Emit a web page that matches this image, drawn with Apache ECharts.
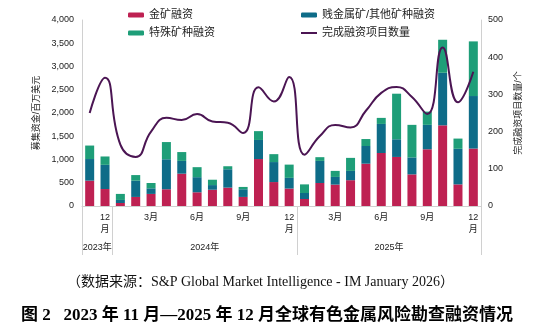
<!DOCTYPE html>
<html>
<head>
<meta charset="utf-8">
<script src="https://cdn.jsdelivr.net/npm/echarts@6/dist/echarts.min.js"></script>
<style>
html,body{margin:0;padding:0;background:#fff;}
#c{width:552px;height:328px;}
</style>
</head>
<body>
<div id="c"></div>
<script>
const months = ['2023-11','2023-12','2024-01','2024-02','2024-03','2024-04','2024-05','2024-06','2024-07','2024-08','2024-09','2024-10','2024-11','2024-12','2025-01','2025-02','2025-03','2025-04','2025-05','2025-06','2025-07','2025-08','2025-09','2025-10','2025-11','2025-12'];
const monthTickLabels = ['', '12\n月', '', '', '3月', '', '', '6月', '', '', '9月', '', '', '12\n月', '', '', '3月', '', '', '6月', '', '', '9月', '', '', '12\n月'];
const yearLabels = ['2023年', '2024年', '2025年'];
const yearCenters = [1, 8, 20];
const yearBounds = [0, 2, 14, 26];

const goldFinancing = [545, 365, 65, 195, 260, 360, 695, 295, 350, 395, 195, 1010, 515, 375, 150, 495, 460, 555, 910, 1140, 1055, 680, 1220, 1735, 465, 1235];
const baseMetalFinancing = [465, 520, 65, 350, 120, 645, 275, 325, 100, 395, 165, 410, 430, 230, 130, 475, 165, 200, 380, 625, 380, 365, 525, 1130, 765, 1130];
const specialtyFinancing = [290, 180, 130, 120, 115, 370, 190, 215, 115, 65, 50, 190, 170, 285, 185, 80, 130, 280, 150, 130, 980, 700, 285, 710, 220, 1175];
const completedProjects = [250, 345, 165, 132, 200, 237, 231, 247, 227, 224, 196, 319, 281, 347, 138, 188, 218, 211, 256, 304, 320, 293, 247, 426, 279, 361];

const FONT = '"Liberation Sans", "Noto Sans CJK SC", sans-serif';
const SERIF = '"Liberation Serif", "Noto Sans CJK SC", serif';
const C_GOLD = '#BE2152', C_BASE = '#0E6C88', C_SPEC = '#1E9E78', C_LINE = '#4B1553';
const AX = '#d0d0d0', TXT = '#222';

const legendText = {fontSize: 11, color: TXT, lineHeight: 12};
const chart = echarts.init(document.getElementById('c'), null, {renderer: 'canvas'});
chart.setOption({
  animation: false,
  textStyle: {fontFamily: FONT},
  title: [
    {text: '（数据来源：S&P Global Market Intelligence - IM January 2026）', left: 62, top: 270,
     textStyle: {fontFamily: SERIF, fontSize: 14, fontWeight: 'normal', color: '#111'}},
    {text: '图 2   2023 年 11 月—2025 年 12 月全球有色金属风险勘查融资情况', left: 16, top: 302,
     textStyle: {fontFamily: SERIF, fontSize: 17, fontWeight: 'bold', color: '#000'}}
  ],
  legend: [
    {left: 123, top: 4, orient: 'vertical', itemWidth: 16, itemHeight: 5, itemGap: 6,
     data: ['金矿融资', '特殊矿种融资'], textStyle: legendText},
    {left: 296, top: 4, orient: 'vertical', itemWidth: 16, itemHeight: 5,
     data: ['贱金属矿/其他矿种融资'], textStyle: legendText},
    {left: 296, top: 22, orient: 'vertical', itemWidth: 16, itemHeight: 2,
     data: [{name: '完成融资项目数量', icon: 'rect'}], textStyle: legendText}
  ],
  grid: {left: 82, right: 71, top: 20, height: 186},
  xAxis: [
    {type: 'category', data: months, position: 'bottom',
     axisLine: {show: true, lineStyle: {color: AX, width: 1}},
     axisTick: {show: false},
     axisLabel: {interval: 0, fontSize: 9, color: TXT, lineHeight: 12, margin: 6,
                 formatter: (v, i) => monthTickLabels[i]}},
    {type: 'value', min: 0, max: 26, position: 'bottom',
     axisLine: {show: false}, splitLine: {show: false},
     axisTick: {show: true, customValues: yearBounds, length: 49, inside: false, lineStyle: {color: AX, width: 1}},
     axisLabel: {customValues: yearCenters, fontSize: 9, color: TXT, margin: 37,
                 formatter: (v) => yearLabels[yearCenters.indexOf(v)] || ''}}
  ],
  yAxis: [
    {type: 'value', min: 0, max: 4000, interval: 500, position: 'left',
     name: '募集资金/百万美元', nameLocation: 'middle', nameGap: 35,
     nameTextStyle: {fontSize: 9, color: TXT},
     axisLine: {show: true, lineStyle: {color: AX}}, axisTick: {show: false}, splitLine: {show: false},
     axisLabel: {fontSize: 9, color: TXT, margin: 8,
                 formatter: v => v.toLocaleString('en-US')}},
    {type: 'value', min: 0, max: 500, interval: 100, position: 'right',
     name: '完成融资项目数量/个', nameLocation: 'middle', nameGap: 23,
     nameTextStyle: {fontSize: 9, color: TXT},
     axisLine: {show: true, lineStyle: {color: AX}}, axisTick: {show: false}, splitLine: {show: false},
     axisLabel: {fontSize: 9, color: TXT, margin: 7}}
  ],
  series: [
    {name: '金矿融资', type: 'bar', stack: 'f', barWidth: 9, data: goldFinancing, itemStyle: {color: C_GOLD}},
    {name: '贱金属矿/其他矿种融资', type: 'bar', stack: 'f', barWidth: 9, data: baseMetalFinancing, itemStyle: {color: C_BASE}},
    {name: '特殊矿种融资', type: 'bar', stack: 'f', barWidth: 9, data: specialtyFinancing, itemStyle: {color: C_SPEC}},
    {name: '完成融资项目数量', type: 'line', yAxisIndex: 1, smooth: 0.5, symbol: 'none',
     data: completedProjects, lineStyle: {color: C_LINE, width: 2}, itemStyle: {color: C_LINE}, z: 5}
  ]
});
</script>
</body>
</html>
